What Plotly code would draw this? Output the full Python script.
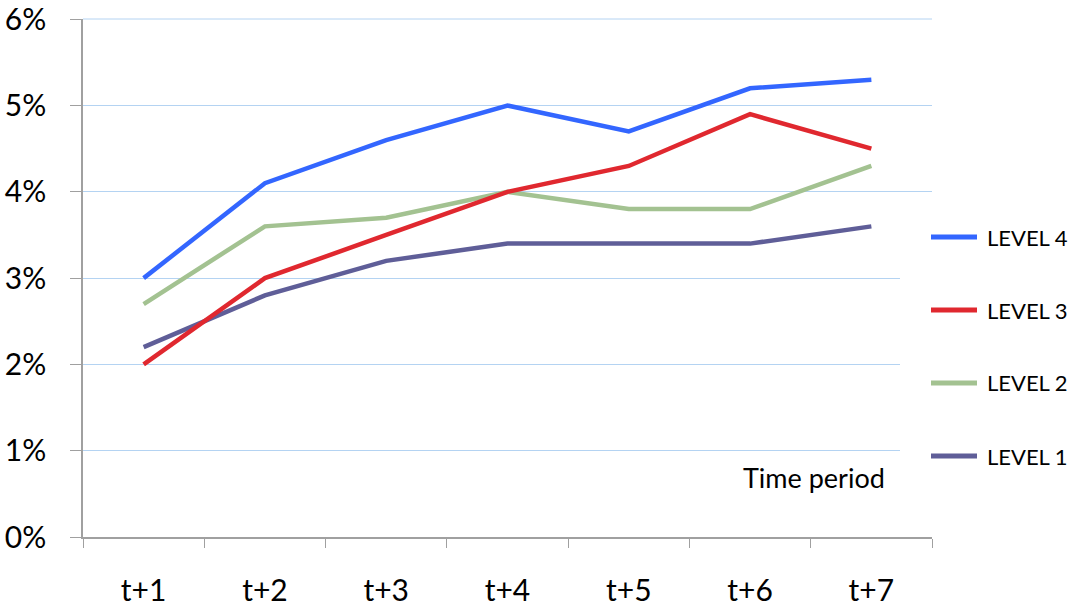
import plotly.graph_objects as go

# Categories and series values (percent)
periods = ["t+1", "t+2", "t+3", "t+4", "t+5", "t+6", "t+7"]
level_1 = [2.2, 2.8, 3.2, 3.4, 3.4, 3.4, 3.6]
level_2 = [2.7, 3.6, 3.7, 4.0, 3.8, 3.8, 4.3]
level_3 = [2.0, 3.0, 3.5, 4.0, 4.3, 4.9, 4.5]
level_4 = [3.0, 4.1, 4.6, 5.0, 4.7, 5.2, 5.3]

series_names = ["LEVEL 1", "LEVEL 2", "LEVEL 3", "LEVEL 4"]
series_values = [level_1, level_2, level_3, level_4]
series_colors = ["#5f5e98", "#a3c291", "#e0282f", "#3366ff"]

y_tick_vals = [0, 1, 2, 3, 4, 5, 6]
y_tick_text = ["0%", "1%", "2%", "3%", "4%", "5%", "6%"]

FONT = "Lato"
GRID = "#b4d3f2"
FIG_W, FIG_H = 1072, 606
M_L, M_R, M_T, M_B = 83, 140, 19, 69
PW = FIG_W - M_L - M_R
PH = FIG_H - M_T - M_B


def px_x(px):
    return (px - M_L) / PW


def px_y(py):
    return (FIG_H - M_B - py) / PH


fig = go.Figure()
for name, vals, col in zip(series_names, series_values, series_colors):
    fig.add_trace(go.Scatter(
        x=periods, y=vals, name=name, mode="lines",
        line=dict(color=col, width=4.5),
        showlegend=False, hoverinfo="skip",
    ))

# Top gridline along the upper edge of the plot area
shapes = [dict(type="line", xref="paper", yref="paper", x0=0, x1=1, y0=1, y1=1,
               line=dict(color=GRID, width=1), layer="below")]

# Hand-built legend on the right, over a white panel
shapes.append(dict(type="rect", xref="paper", yref="paper",
                   x0=px_x(900), x1=px_x(1072), y0=px_y(500), y1=px_y(200),
                   fillcolor="white", line=dict(width=0), layer="above"))
annotations = []
legend_rows = [237, 310, 383, 456]
for row, idx in zip(legend_rows, [3, 2, 1, 0]):
    shapes.append(dict(type="line", xref="paper", yref="paper",
                       x0=px_x(931), x1=px_x(977), y0=px_y(row), y1=px_y(row),
                       line=dict(color=series_colors[idx], width=5), layer="above"))
    annotations.append(dict(xref="paper", yref="paper", x=px_x(985), y=px_y(row),
                            text=series_names[idx], showarrow=False,
                            xanchor="left", yanchor="middle",
                            font=dict(family=FONT, size=22, color="#000")))

annotations.append(dict(xref="paper", yref="paper", x=px_x(887), y=px_y(477),
                        text="Time period", showarrow=False,
                        xanchor="right", yanchor="middle",
                        font=dict(family=FONT, size=27, color="#000")))

fig.update_layout(
    width=FIG_W, height=FIG_H,
    margin=dict(l=M_L, r=M_R, t=M_T, b=M_B),
    paper_bgcolor="white", plot_bgcolor="white",
    shapes=shapes, annotations=annotations,
    font=dict(family=FONT, color="#000"),
)
fig.update_xaxes(
    type="category", range=[-0.5, 6.5], automargin=False,
    showgrid=False, showline=True, linecolor="#a0a0a0", linewidth=1.5,
    ticks="outside", tickson="boundaries", ticklen=9, tickcolor="#a0a0a0",
    tickfont=dict(family=FONT, size=30), ticklabelstandoff=26,
    ticklabeloverflow="allow",
)
fig.update_yaxes(
    range=[0, 6.003], tickvals=y_tick_vals, ticktext=y_tick_text, automargin=False,
    showgrid=True, gridcolor=GRID, gridwidth=1,
    showline=True, linecolor="#a0a0a0", linewidth=1.5,
    ticks="outside", ticklen=11, tickcolor="#a0a0a0",
    tickfont=dict(family=FONT, size=30), ticklabelstandoff=18,
    ticklabeloverflow="allow", zeroline=False,
)

fig.write_html("out.html")
